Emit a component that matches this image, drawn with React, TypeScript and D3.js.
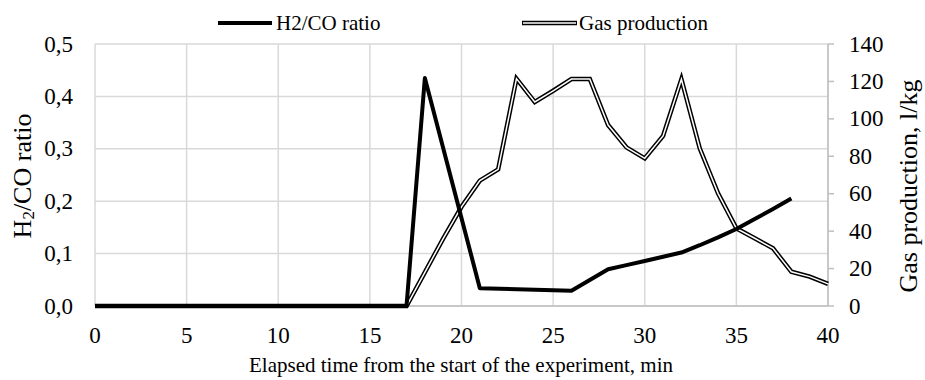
import React from "react";
import * as d3 from "d3";

// elapsed time (min) and values
const ratioTime = [0, 17, 18, 21, 26, 28, 29, 30, 31, 32, 33, 34, 35, 36, 37, 38];
const ratioValues = [0, 0, 0.435, 0.034, 0.029, 0.07, 0.078, 0.086, 0.094, 0.102, 0.116, 0.131, 0.147, 0.166, 0.185, 0.205];

const gasTime = [0, 17, 18, 19, 20, 21, 22, 23, 24, 25, 26, 27, 28, 29, 30, 31, 32, 33, 34, 35, 36, 37, 38, 39, 40];
const gasValues = [0, 0, 18, 36, 53, 67, 73, 121.5, 109, 115, 121.3, 121.3, 96.7, 84.8, 78.9, 90.9, 121.2, 84.3, 60.2, 41.5, 36.2, 30.8, 18.3, 15.7, 11.8];

const xTicks = [0, 5, 10, 15, 20, 25, 30, 35, 40];
const leftTicks = [0, 0.1, 0.2, 0.3, 0.4, 0.5];
const rightTicks = [0, 20, 40, 60, 80, 100, 120, 140];

const W = 925;
const H = 380;
const FONT = "'Liberation Serif', 'Times New Roman', serif";

const App: React.FC = () => {
    const x = d3.scaleLinear().domain([0, 40]).range([95, 828]);
    const yL = d3.scaleLinear().domain([0, 0.5]).range([306, 44]);
    const yR = d3.scaleLinear().domain([0, 140]).range([306, 44]);

    const fmt = (v: number) => d3.format(".1f")(v).replace(".", ",");

    const ratioLine = d3.line<number>()
        .x((_, i) => x(ratioTime[i]))
        .y(d => yL(d));
    const gasLine = d3.line<number>()
        .x((_, i) => x(gasTime[i]))
        .y(d => yR(d));

    const grid = "#d9d9d9";
    const tickSize = 23;

    return (
        <svg width={W} height={H} style={{ display: "block", fontFamily: FONT }}>
            <style>{"body{margin:0}"}</style>
            <rect width={W} height={H} fill="#fff" />

            {/* horizontal grid */}
            {leftTicks.map(t => (
                <line key={"h" + t} x1={x(0)} x2={x(40)} y1={yL(t)} y2={yL(t)} stroke={grid} strokeWidth={1.5} />
            ))}
            {/* vertical grid */}
            {xTicks.map(t => (
                <line key={"v" + t} x1={x(t)} x2={x(t)} y1={yL(0)} y2={yL(0.5)} stroke={grid} strokeWidth={1.5} />
            ))}

            {/* right axis */}
            <line x1={x(40)} x2={x(40)} y1={yR(0)} y2={yR(140)} stroke="#bfbfbf" strokeWidth={1.5} />
            {rightTicks.map(t => (
                <line key={"rt" + t} x1={x(40)} x2={x(40) + 6} y1={yR(t)} y2={yR(t)} stroke="#bfbfbf" strokeWidth={1.5} />
            ))}
            <line x1={x(0)} x2={x(40)} y1={yL(0)} y2={yL(0)} stroke="#bfbfbf" strokeWidth={1.5} />

            {/* gas production: double line */}
            <path d={gasLine(gasValues) || ""} fill="none" stroke="#000" strokeWidth={4.5} strokeLinejoin="miter" />
            <path d={gasLine(gasValues) || ""} fill="none" stroke="#fff" strokeWidth={1.5} strokeLinejoin="miter" />

            {/* H2/CO ratio */}
            <path d={ratioLine(ratioValues) || ""} fill="none" stroke="#000" strokeWidth={4} strokeLinejoin="round" />

            {/* tick labels */}
            {leftTicks.map(t => (
                <text key={"lt" + t} x={73} y={yL(t)} textAnchor="end" dominantBaseline="central" fontSize={tickSize}>{fmt(t)}</text>
            ))}
            {rightTicks.map(t => (
                <text key={"rl" + t} x={849} y={yR(t)} textAnchor="start" dominantBaseline="central" fontSize={tickSize}>{t}</text>
            ))}
            {xTicks.map(t => (
                <text key={"xl" + t} x={x(t)} y={335} textAnchor="middle" dominantBaseline="central" fontSize={tickSize}>{t}</text>
            ))}

            {/* axis titles */}
            <text x={461} y={365} textAnchor="middle" dominantBaseline="central" fontSize={21}>
                Elapsed time from the start of the experiment, min
            </text>
            <text transform="translate(22,176) rotate(-90)" textAnchor="middle" dominantBaseline="central" fontSize={26}>
                H<tspan fontSize={17} dy={6}>2</tspan><tspan dy={-6}>/CO ratio</tspan>
            </text>
            <text transform="translate(908,186) rotate(-90)" textAnchor="middle" dominantBaseline="central" fontSize={26}>
                Gas production, l/kg
            </text>

            {/* legend */}
            <line x1={218} x2={272} y1={23} y2={23} stroke="#000" strokeWidth={4} />
            <text x={276} y={23} dominantBaseline="central" fontSize={21}>H2/CO ratio</text>
            <line x1={522} x2={577} y1={23} y2={23} stroke="#000" strokeWidth={4.5} />
            <line x1={523} x2={576} y1={23} y2={23} stroke="#fff" strokeWidth={1.5} />
            <text x={579} y={23} dominantBaseline="central" fontSize={21}>Gas production</text>
        </svg>
    );
};

export default App;
